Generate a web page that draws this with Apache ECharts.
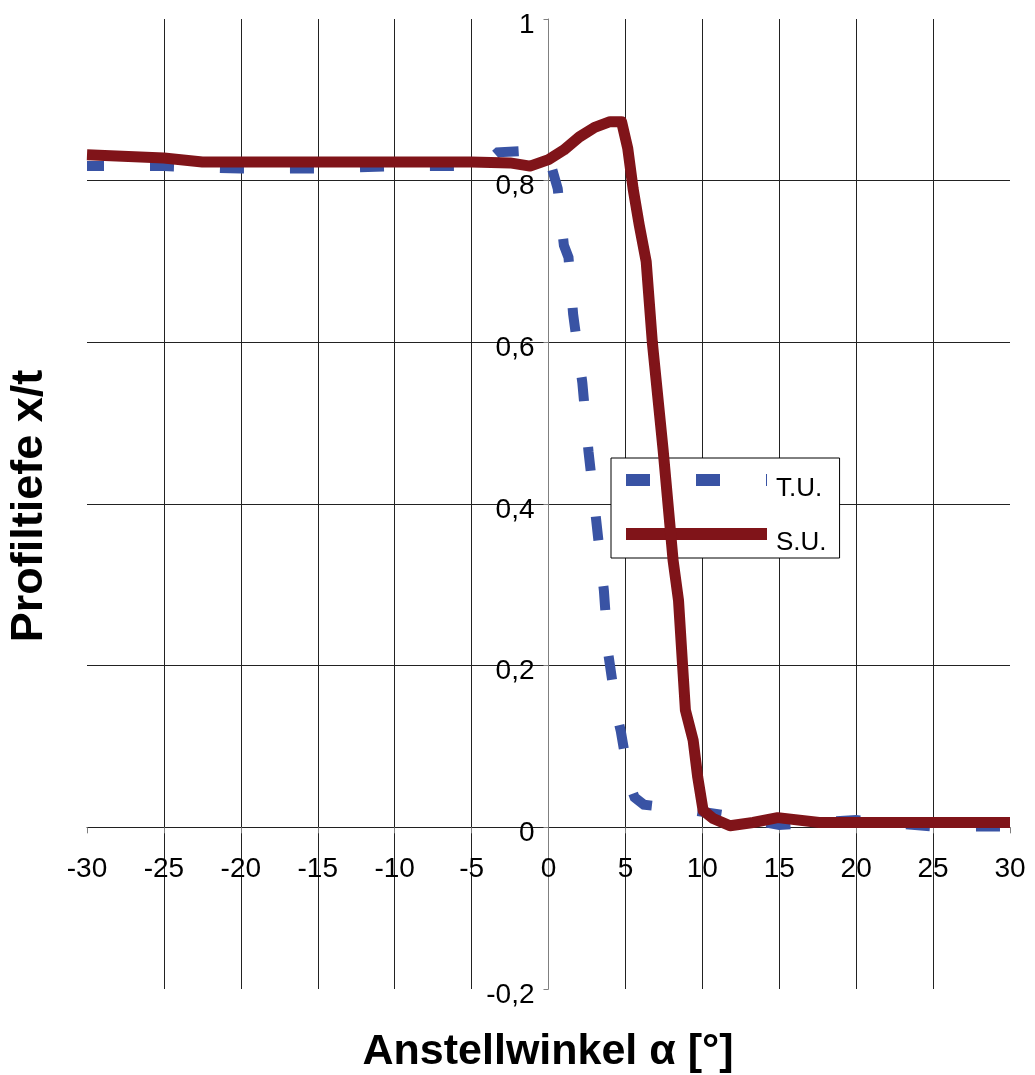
<!DOCTYPE html>
<html>
<head>
<meta charset="utf-8">
<script src="https://cdn.jsdelivr.net/npm/echarts@6/dist/echarts.min.js"></script>
<style>
  html, body { margin: 0; padding: 0; background: #ffffff; }
  #chart { width: 1035px; height: 1075px; }
</style>
</head>
<body>
<div id="chart"></div>
<script>
// Profile depth x/t over angle of attack, two measurement series
const FONT = '"Liberation Sans", Arial, Helvetica, sans-serif';

// T.U. measurements
const tuAngle = [-30, -25, -20, -15, -10, -5, -4.3, -3.3, -0.6, 0, 0.6, 1.0, 1.3, 1.6, 2.2, 2.6, 3.1, 3.6, 3.9, 4.5, 4.7, 5.3, 5.6, 6.2, 9, 11.5, 15, 20, 25, 30];
const tuDepth = [0.818, 0.818, 0.815, 0.815, 0.818, 0.818, 0.818, 0.835, 0.838, 0.83, 0.79, 0.72, 0.705, 0.635, 0.55, 0.465, 0.38, 0.293, 0.213, 0.135, 0.119, 0.052, 0.037, 0.028, 0.022, 0.015, 0.003, 0.009, 0.001, 0.001];

// S.U. measurements
const suAngle = [-30, -25, -22.5, -20, -15, -10, -5, -2.5, -1.2, 0, 1, 2, 3, 4, 4.75, 5.15, 5.5, 5.9, 6.35, 6.75, 7.45, 8.1, 8.45, 8.75, 8.9, 9.4, 9.7, 10.05, 10.7, 11.8, 13.3, 14.9, 17.6, 20, 25, 30];
const suDepth = [0.832, 0.828, 0.823, 0.823, 0.823, 0.823, 0.823, 0.822, 0.818, 0.826, 0.838, 0.854, 0.866, 0.873, 0.873, 0.84, 0.79, 0.745, 0.70, 0.60, 0.467, 0.33, 0.281, 0.19, 0.145, 0.108, 0.062, 0.021, 0.011, 0.002, 0.006, 0.012, 0.006, 0.006, 0.006, 0.006];

// Axis ranges and tick spacing
const xRange = [-30, 30];
const xStep = 5;
const yRange = [-0.2, 1];
const yStep = 0.2;

const seriesNames = ['T.U.', 'S.U.'];
const xTitle = 'Anstellwinkel \u03B1 [\u00B0]';
const yTitle = 'Profiltiefe x/t';

const zip = (xs, ys) => xs.map((x, i) => [x, ys[i]]);
const decimalComma = v => String(Math.round(v * 10) / 10).replace('.', ',');

// Plot rectangle
const GRID = { left: 87, right: 25, top: 19, bottom: 86 };
const W = 1035, H = 1075;
const plotW = W - GRID.left - GRID.right;
const plotH = H - GRID.top - GRID.bottom;
// The axes cross at the origin: shift them in from the plot edges
const yAxisShift = plotW * (0 - xRange[0]) / (xRange[1] - xRange[0]);
const xAxisShift = plotH * (0 - yRange[0]) / (yRange[1] - yRange[0]);

const chart = echarts.init(document.getElementById('chart'), null, { renderer: 'canvas' });

chart.setOption({
  animation: false,
  backgroundColor: '#ffffff',
  grid: Object.assign({ containLabel: false, outerBoundsMode: 'none' }, GRID),
  xAxis: {
    type: 'value',
    position: 'bottom',
    offset: -xAxisShift,
    min: xRange[0], max: xRange[1], interval: xStep,
    axisLine: { show: true, onZero: false, lineStyle: { color: '#202020', width: 1 } },
    axisTick: { show: true, inside: false, length: 6, lineStyle: { color: '#808080', width: 1 } },
    axisLabel: { show: true, color: '#000', fontFamily: FONT, fontSize: 28, margin: 28 },
    splitLine: { show: true, showMinLine: false, showMaxLine: false, lineStyle: { color: '#222222', width: 1 } }
  },
  yAxis: {
    type: 'value',
    position: 'left',
    offset: -yAxisShift,
    min: yRange[0], max: yRange[1], interval: yStep,
    axisLine: { show: true, onZero: false, lineStyle: { color: '#808080', width: 1 } },
    axisTick: { show: true, inside: false, length: 5, lineStyle: { color: '#808080', width: 1 } },
    axisLabel: {
      show: true, color: '#000', fontFamily: FONT, fontSize: 28, margin: 14,
      formatter: v => '{v|' + decimalComma(v) + '}',
      rich: { v: { color: '#000', fontFamily: FONT, fontSize: 28, lineHeight: 30, padding: [12, 0, 0, 0] } }
    },
    splitLine: { show: true, showMinLine: false, showMaxLine: false, lineStyle: { color: '#222222', width: 1 } }
  },
  legend: {
    show: true,
    orient: 'vertical',
    left: 611, top: 458,
    padding: [0, 13, 2, 9],
    itemWidth: 141, itemHeight: 12, itemGap: 10,
    selectedMode: false,
    backgroundColor: '#ffffff',
    borderColor: '#000000', borderWidth: 1, borderRadius: 0,
    itemStyle: { opacity: 0, borderWidth: 0 },
    lineStyle: { width: 12, cap: 'butt', dashOffset: 0 },
    formatter: name => '{t|' + name + '}',
    textStyle: {
      color: '#000', fontFamily: FONT, fontSize: 26,
      rich: { t: { color: '#000', fontFamily: FONT, fontSize: 26, lineHeight: 28, padding: [18, 0, 0, 4] } }
    },
    data: seriesNames
  },
  series: [
    {
      name: seriesNames[0],
      type: 'line',
      data: zip(tuAngle, tuDepth),
      symbol: 'none', showSymbol: false,
      z: 3,
      lineStyle: { color: '#3953A4', width: 10, type: [24, 46], dashOffset: 7, cap: 'butt', join: 'miter' },
      itemStyle: { color: '#3953A4' },
      emphasis: { disabled: true }
    },
    {
      name: seriesNames[1],
      type: 'line',
      data: zip(suAngle, suDepth),
      symbol: 'none', showSymbol: false,
      z: 4,
      lineStyle: { color: '#801419', width: 11, type: 'solid', cap: 'butt', join: 'round' },
      itemStyle: { color: '#801419' },
      emphasis: { disabled: true }
    }
  ],
  graphic: [
    {
      type: 'text', x: 548, y: 1052,
      style: { text: xTitle, fill: '#000', font: 'bold 43px ' + FONT, textAlign: 'center', textVerticalAlign: 'middle' }
    },
    {
      type: 'text', x: 30, y: 506, rotation: Math.PI / 2,
      style: { text: yTitle, fill: '#000', font: 'bold 45px ' + FONT, textAlign: 'center', textVerticalAlign: 'middle' }
    }
  ]
});
</script>
</body>
</html>
